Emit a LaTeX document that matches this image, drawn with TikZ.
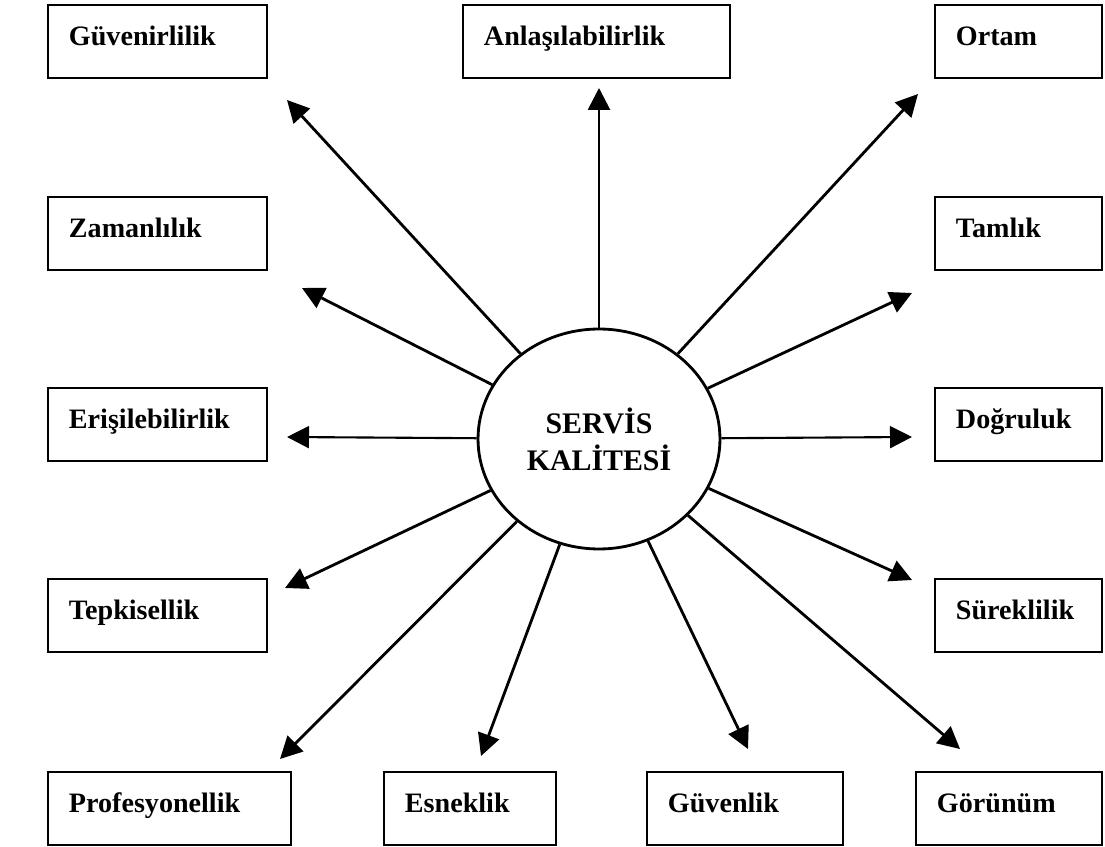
\documentclass[tikz,border=0pt]{standalone}
\usepackage{fontspec}
\setmainfont{Liberation Serif}
\usetikzlibrary{shapes.geometric,arrows.meta}

\begin{document}
\begin{tikzpicture}[x=0.02cm,y=-0.02cm]
\tikzset{kutu/.style={draw, line width=1.1pt, anchor=north west, font=\fontsize{16}{20}\selectfont\bfseries, inner xsep=0.42cm, inner ysep=0pt, text height=0.82cm, text depth=0.64cm, align=left}}
\tikzset{ok/.style={line width=1.6pt, -{Triangle[length=0.44cm, width=0.44cm]}}}
\useasboundingbox (0,0) rectangle (1105,847);
\node[kutu, text width=3.54cm] (K1) at (47,4) {Güvenirlilik};
\node[kutu, text width=4.50cm] (K2) at (462,4) {Anlaşılabilirlik};
\node[kutu, text width=2.50cm] (K3) at (934,4) {Ortam};
\node[kutu, text width=3.54cm] (K4) at (47,196) {Zamanlılık};
\node[kutu, text width=2.50cm] (K5) at (934,196) {Tamlık};
\node[kutu, text width=3.54cm] (K6) at (47,387) {Erişilebilirlik};
\node[kutu, text width=2.50cm] (K7) at (934,387) {Doğruluk};
\node[kutu, text width=3.54cm] (K8) at (47,578) {Tepkisellik};
\node[kutu, text width=2.50cm] (K9) at (934,578) {Süreklilik};
\node[kutu, text width=4.02cm] (K10) at (47,771) {Profesyonellik};
\node[kutu, text width=2.60cm] (K11) at (383,771) {Esneklik};
\node[kutu, text width=3.08cm] (K12) at (646,771) {Güvenlik};
\node[kutu, text width=2.88cm] (K13) at (915,771) {Görünüm};
\node[draw, ellipse, line width=1.6pt, minimum width=4.84cm, minimum height=4.4cm, inner sep=0pt, align=center, font=\fontsize{17}{21}\selectfont\bfseries] (S) at (599,439) {SERVİS\\KALİTESİ};
\coordinate (U1) at (287,100);
\coordinate (U2) at (599,88);
\coordinate (U3) at (918,94);
\coordinate (U4) at (302,288);
\coordinate (U5) at (912,293);
\coordinate (U6) at (287,437);
\coordinate (U7) at (912,437);
\coordinate (U8) at (285,588);
\coordinate (U9) at (912,580);
\coordinate (U10) at (280,759);
\coordinate (U11) at (481,756);
\coordinate (U12) at (748,749);
\coordinate (U13) at (960,749);
\draw[ok] (S) -- (U1);
\draw[ok] (S) -- (U2);
\draw[ok] (S) -- (U3);
\draw[ok] (S) -- (U4);
\draw[ok] (S) -- (U5);
\draw[ok, line width=1.2pt] (S) -- (U6);
\draw[ok, line width=1.2pt] (S) -- (U7);
\draw[ok] (S) -- (U8);
\draw[ok] (S) -- (U9);
\draw[ok] (S) -- (U10);
\draw[ok] (S) -- (U11);
\draw[ok] (S) -- (U12);
\draw[ok] (S) -- (U13);
\end{tikzpicture}
\end{document}
